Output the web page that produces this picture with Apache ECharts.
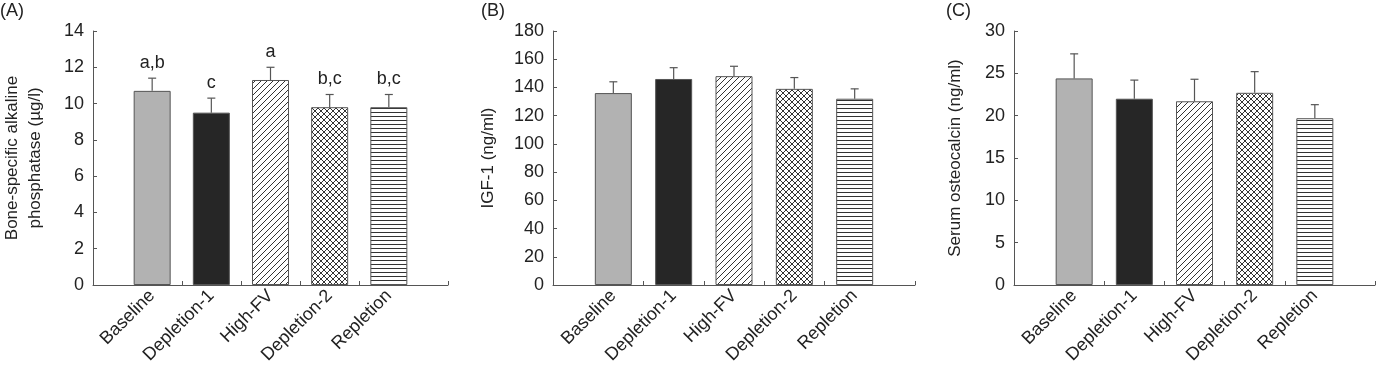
<!DOCTYPE html>
<html>
<head>
<meta charset="utf-8">
<script src="https://cdn.jsdelivr.net/npm/echarts@6/dist/echarts.min.js"></script>
<style>
  html, body { margin: 0; padding: 0; background: #fff; }
  #main { width: 1377px; height: 369px; }
</style>
</head>
<body>
<div id="main"></div>
<script>
// groups on the x axis
var categories = ['Baseline', 'Depletion-1', 'High-FV', 'Depletion-2', 'Repletion'];
// bar centres on a 0..6 scale (axis runs a bit past the last bar, like the original)
var positions = [1, 2, 3, 4, 5];

// (A) bone-specific alkaline phosphatase
var balpMean = [10.7, 9.5, 11.3, 9.8, 9.8];
var balpSd = [0.7, 0.8, 0.7, 0.7, 0.7];
var balpLetters = ['a,b', 'c', 'a', 'b,c', 'b,c'];
var balpTicks = { min: 0, max: 14, interval: 2 };

// (B) IGF-1
var igfMean = [136, 146, 148, 139, 132];
var igfSd = [8, 8, 7, 8, 7];
var igfTicks = { min: 0, max: 180, interval: 20 };

// (C) serum osteocalcin
var ocMean = [24.4, 22.0, 21.7, 22.7, 19.7];
var ocSd = [2.9, 2.2, 2.6, 2.5, 1.6];
var ocTicks = { min: 0, max: 30, interval: 5 };

var FONT = "'Liberation Sans', Arial, sans-serif";
var INK = '#222';
var AXIS = '#555';

// small canvases used as hatch fills
function hatch(kind) {
	var s = kind === 'horiz' ? 4 : 6;
	var c = document.createElement('canvas');
	c.width = s; c.height = s;
	var ctx = c.getContext('2d');
	ctx.fillStyle = '#fff';
	ctx.fillRect(0, 0, s, s);
	ctx.strokeStyle = '#333';
	ctx.lineWidth = 1;
	ctx.beginPath();
	if (kind === 'horiz') {
		ctx.moveTo(0, 0.5); ctx.lineTo(s, 0.5);
	} else {
		// "/" direction
		ctx.moveTo(-1, s + 1); ctx.lineTo(s + 1, -1);
		ctx.moveTo(-1, 1); ctx.lineTo(1, -1);
		ctx.moveTo(s - 1, s + 1); ctx.lineTo(s + 1, s - 1);
		if (kind === 'cross') {
			ctx.moveTo(-1, -1); ctx.lineTo(s + 1, s + 1);
			ctx.moveTo(s - 1, -1); ctx.lineTo(s + 1, 1);
			ctx.moveTo(-1, s - 1); ctx.lineTo(1, s + 1);
		}
	}
	ctx.stroke();
	return c;
}

var fills = [
	'#b2b2b2',
	'#262626',
	{ image: hatch('diag'), repeat: 'repeat' },
	{ image: hatch('cross'), repeat: 'repeat' },
	{ image: hatch('horiz'), repeat: 'repeat' }
];

var grids = [
	{ left: 86, top: 31, width: 362, height: 254 },
	{ left: 553, top: 31, width: 362, height: 254 },
	{ left: 1014, top: 31, width: 361, height: 254 }
];

function xAxisFor(idx) {
	return {
		type: 'value', gridIndex: idx, min: 0, max: 6,
		splitLine: { show: false },
		axisLine: { show: true, lineStyle: { color: AXIS, width: 1 } },
		axisTick: { show: true, inside: true, length: 4, lineStyle: { color: AXIS },
			customValues: [1.5, 2.5, 3.5, 4.5, 6] },
		axisLabel: {
			customValues: positions,
			rotate: 45, margin: 8, color: INK, fontSize: 18, fontFamily: FONT,
			formatter: function (v) { return categories[Math.round(v) - 1] || ''; }
		}
	};
}

function yAxisFor(idx, ticks, name, gap) {
	return {
		type: 'value', gridIndex: idx,
		min: ticks.min, max: ticks.max, interval: ticks.interval,
		name: name, nameLocation: 'middle', nameGap: gap,
		nameTextStyle: { color: INK, fontSize: 17, fontFamily: FONT, lineHeight: 23 },
		splitLine: { show: false },
		axisLine: { show: true, lineStyle: { color: AXIS, width: 1 } },
		axisTick: { show: true, inside: true, length: 4, lineStyle: { color: AXIS } },
		axisLabel: { color: INK, fontSize: 18, fontFamily: FONT, margin: 9 }
	};
}

function barSeries(idx, mean) {
	return {
		type: 'bar', xAxisIndex: idx, yAxisIndex: idx,
		barWidth: 37,
		data: mean.map(function (m, i) {
			return { value: [positions[i], m], itemStyle: { color: fills[i] } };
		}),
		itemStyle: { borderColor: AXIS, borderWidth: 1 },
		emphasis: { disabled: true },
		silent: true
	};
}

function errorSeries(idx, mean, sd, letters) {
	return {
		type: 'custom', xAxisIndex: idx, yAxisIndex: idx,
		silent: true,
		data: mean.map(function (m, i) { return [positions[i], m, m + sd[i], i]; }),
		renderItem: function (params, api) {
			var base = api.coord([api.value(0), api.value(1)]);
			var top = api.coord([api.value(0), api.value(2)]);
			var style = { stroke: AXIS, lineWidth: 1.2 };
			var kids = [
				{ type: 'line', shape: { x1: base[0], y1: base[1], x2: top[0], y2: top[1] }, style: style },
				{ type: 'line', shape: { x1: top[0] - 4, y1: top[1], x2: top[0] + 4, y2: top[1] }, style: style }
			];
			if (letters) {
				kids.push({
					type: 'text',
					style: {
						text: letters[api.value(3)], x: top[0], y: top[1] - 6,
						align: 'center', verticalAlign: 'bottom',
						fill: INK, font: '18px ' + FONT
					}
				});
			}
			return { type: 'group', children: kids };
		}
	};
}

var chart = echarts.init(document.getElementById('main'), null, { renderer: 'canvas' });

chart.setOption({
	animation: false,
	backgroundColor: '#fff',
	title: [
		{ text: '(A)', left: 0, top: 2 },
		{ text: '(B)', left: 481, top: 2 },
		{ text: '(C)', left: 946, top: 2 }
	].map(function (t) {
		t.padding = 0;
		t.textStyle = { color: INK, fontSize: 18, fontWeight: 'normal', fontFamily: FONT };
		return t;
	}),
	grid: grids,
	xAxis: [xAxisFor(0), xAxisFor(1), xAxisFor(2)],
	yAxis: [
		yAxisFor(0, balpTicks, 'Bone-specific alkaline\nphosphatase (\u00b5g/l)', 46),
		yAxisFor(1, igfTicks, 'IGF-1 (ng/ml)', 53),
		yAxisFor(2, ocTicks, 'Serum osteocalcin (ng/ml)', 47)
	],
	series: [
		barSeries(0, balpMean), errorSeries(0, balpMean, balpSd, balpLetters),
		barSeries(1, igfMean), errorSeries(1, igfMean, igfSd),
		barSeries(2, ocMean), errorSeries(2, ocMean, ocSd)
	]
});
</script>
</body>
</html>
